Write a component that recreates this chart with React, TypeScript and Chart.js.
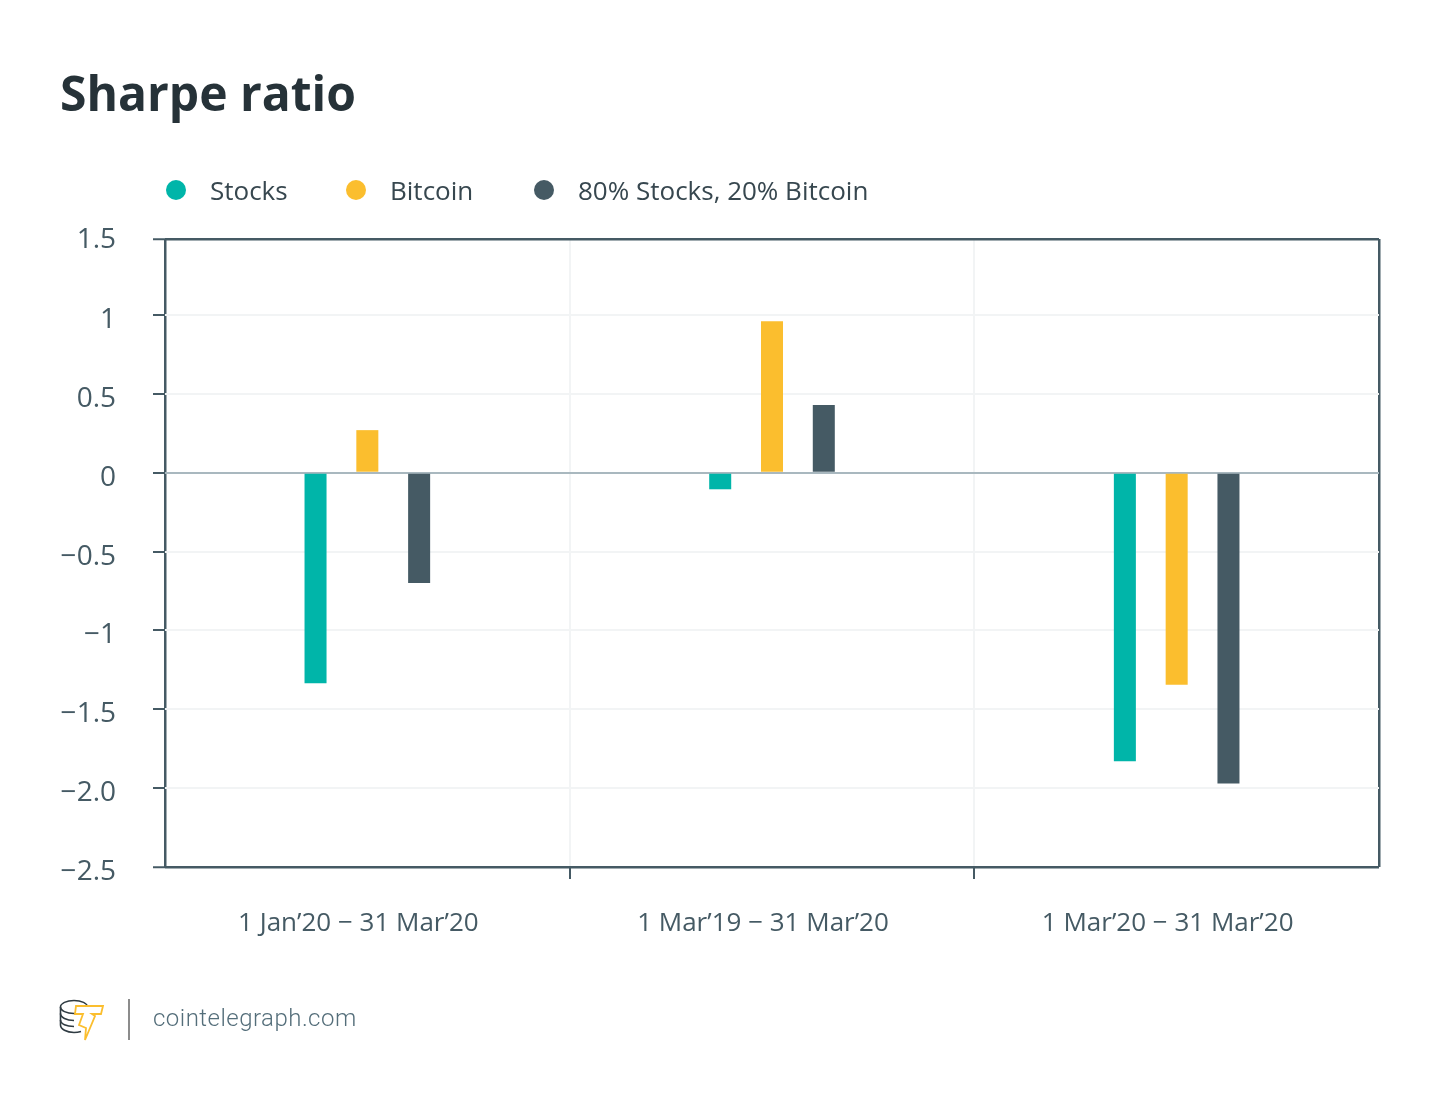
import { useEffect, useRef } from "react";
import { Chart, registerables } from "chart.js";

Chart.register(...registerables);

const categories = ["1 Jan’20 − 31 Mar’20", "1 Mar’19 − 31 Mar’20", "1 Mar’20 − 31 Mar’20"];
const stocks = [-1.335, -0.105, -1.83];
const bitcoin = [0.27, 0.96, -1.345];
const mixed = [-0.7, 0.43, -1.97];

// the top tick of the original sits a little under its even spacing
const yTickValues = [-2.5, -2, -1.5, -1, -0.5, 0, 0.5, 1, 1.482];
const yTickLabels = ["−2.5", "−2.0", "−1.5", "−1", "−0.5", "0", "0.5", "1", "1.5"];

const seriesNames = ["Stocks", "Bitcoin", "80% Stocks, 20% Bitcoin"];
const seriesColors = ["#00b5a9", "#fbbe2e", "#455a64"];
const legendDotX = [176, 356, 544];
const legendTextX = [210, 390, 578];

const DARK = "#455a64";
const LIGHT = "#f2f4f5";
const FONT = "'Open Sans', sans-serif";
const TOP_TICK = yTickValues.length - 1;

export default function App() {
  const canvasRef = useRef<HTMLCanvasElement | null>(null);

  useEffect(() => {
    if (!canvasRef.current) return;

    const chart = new Chart(canvasRef.current, {
      type: "bar",
      data: {
        labels: categories,
        datasets: [
          { label: seriesNames[0], data: stocks, backgroundColor: seriesColors[0] },
          { label: seriesNames[1], data: bitcoin, backgroundColor: seriesColors[1] },
          { label: seriesNames[2], data: mixed, backgroundColor: seriesColors[2] },
        ],
      },
      options: {
        responsive: false,
        animation: false,
        layout: { padding: { left: 0, right: 71, top: 239, bottom: 0 } },
        datasets: { bar: { categoryPercentage: 0.384, barPercentage: 0.425 } },
        plugins: {
          legend: { display: false },
          tooltip: { enabled: false },
        },
        scales: {
          x: {
            afterFit: (scale: any) => {
              scale.height = 233;
            },
            border: { display: false },
            grid: {
              offset: true,
              tickLength: 12,
              tickWidth: 2,
              // the last offset grid line has no tick, so its index is undefined
              lineWidth: (ctx: any) => (ctx.index > 0 ? 2 : 2.5),
              color: (ctx: any) => (ctx.index > 0 ? LIGHT : DARK),
              tickColor: (ctx: any) => (ctx.index > 0 ? DARK : "rgba(0,0,0,0)"),
            },
            ticks: {
              color: DARK,
              padding: 29,
              labelOffset: -9,
              maxRotation: 0,
              autoSkip: false,
              font: { size: 26, family: FONT },
            },
          },
          y: {
            min: -2.5,
            max: 1.482,
            afterFit: (scale: any) => {
              scale.width = 165;
            },
            afterBuildTicks: (scale: any) => {
              scale.ticks = yTickValues.map((value) => ({ value }));
            },
            border: { display: false },
            grid: {
              tickLength: 12,
              tickWidth: 2,
              tickColor: DARK,
              lineWidth: (ctx: any) => (ctx.index === 0 || ctx.index === TOP_TICK ? 2.5 : 2),
              color: (ctx: any) => {
                if (ctx.index === 0 || ctx.index === TOP_TICK) return DARK;
                return yTickValues[ctx.index] === 0 ? "#a9b8bf" : LIGHT;
              },
            },
            ticks: {
              color: DARK,
              padding: 37,
              labelOffset: 5,
              autoSkip: false,
              // top label stands higher than the others: an empty second line lifts it
              font: (ctx: any) => ({
                size: 28,
                family: FONT,
                lineHeight: ctx.index === TOP_TICK ? 0.29 : 1.2,
              }),
              callback: (_value: any, index: number) =>
                index === TOP_TICK ? [yTickLabels[index], ""] : yTickLabels[index],
            },
          },
        },
      },
    });

    return () => {
      chart.destroy();
    };
  }, []);

  return (
    <div style={{ position: "absolute", left: 0, top: 0, width: 1450, height: 1100, background: "#fff", overflow: "hidden" }}>
      <canvas ref={canvasRef} width={1450} height={1100} style={{ position: "absolute", left: 0, top: 0 }} />

      <div style={{ position: "absolute", left: 60, top: 60, fontFamily: FONT, fontWeight: 700, fontSize: 48, lineHeight: "66px", color: "#263238" }}>
        Sharpe ratio
      </div>

      {seriesNames.map((name, i) => (
        <div key={name}>
          <div
            style={{
              position: "absolute",
              left: legendDotX[i] - 10,
              top: 180,
              width: 20,
              height: 20,
              borderRadius: "50%",
              background: seriesColors[i],
            }}
          />
          <div
            style={{
              position: "absolute",
              left: legendTextX[i],
              top: 172,
              fontFamily: FONT,
              fontSize: 26,
              lineHeight: "36px",
              color: "#37474f",
              whiteSpace: "nowrap",
            }}
          >
            {name}
          </div>
        </div>
      ))}

      <svg style={{ position: "absolute", left: 56, top: 994 }} width={52} height={48} viewBox="0 0 52 48" fill="none">
        <g stroke="#2f3b42" strokeWidth={1.6}>
          <ellipse cx={18} cy={13} rx={13.5} ry={6.5} fill="#fff" />
          <path d="M4.5 13v18c0 4 6 7.5 13.5 7.5 3 0 5-.4 7-1" />
          <path d="M4.5 19.5c0 4 6 7 13.5 7M4.5 26c0 4 6 6.500 13.500 6.500" />
        </g>
        <path
          d="M20 12h27l-2 8h-9l3 2-10 24 1-12-7-3 4-11h-8z"
          fill="#fff"
          stroke="#fbbe2e"
          strokeWidth={1.8}
          strokeLinejoin="miter"
        />
      </svg>
      <div style={{ position: "absolute", left: 128, top: 999, width: 2, height: 41, background: "#8c8c8c" }} />
      <div
        style={{
          position: "absolute",
          left: 153,
          top: 1002,
          fontFamily: "Roboto, sans-serif",
          fontWeight: 300,
          fontSize: 24,
          lineHeight: "32px",
          letterSpacing: 0.48,
          color: "#546e7a",
        }}
      >
        cointelegraph.com
      </div>
    </div>
  );
}
